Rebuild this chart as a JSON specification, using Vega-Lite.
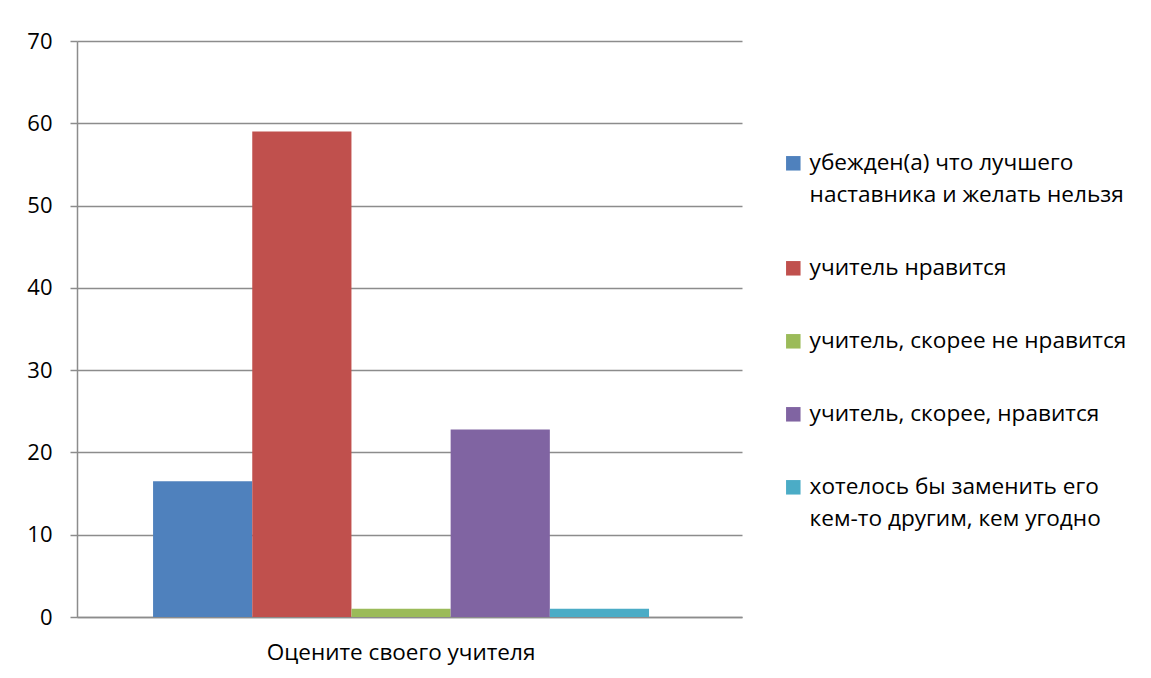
{
  "$schema": "https://vega.github.io/schema/vega-lite/v6.json",
  "width": 665,
  "height": 576,
  "autosize": {"type": "none"},
  "padding": {"left": 77, "top": 41, "right": 409, "bottom": 61},
  "background": "white",
  "config": {
    "view": {"stroke": null},
    "font": "Open Sans",
    "style": {"guide-label": {"lineHeight": 32}}
  },
  "data": {
    "values": [
      {"question": "Оцените своего учителя", "answer": "убежден(а) что лучшего наставника и желать нельзя", "value": 16.5},
      {"question": "Оцените своего учителя", "answer": "учитель нравится", "value": 59},
      {"question": "Оцените своего учителя", "answer": "учитель, скорее не нравится", "value": 1},
      {"question": "Оцените своего учителя", "answer": "учитель, скорее, нравится", "value": 22.8},
      {"question": "Оцените своего учителя", "answer": "хотелось бы заменить его кем-то другим, кем угодно", "value": 1}
    ]
  },
  "mark": {"type": "bar"},
  "encoding": {
    "x": {
      "field": "question",
      "type": "nominal",
      "title": null,
      "scale": {"paddingInner": 0, "paddingOuter": 0.1704, "align": 0.45},
      "axis": {
        "labelAngle": 0,
        "labelFontSize": 22.5,
        "labelColor": "#000000",
        "labelPadding": 24,
        "labelLimit": 0,
        "ticks": false,
        "domainColor": "#8c8c8c",
        "domainWidth": 1.5
      }
    },
    "xOffset": {
      "field": "answer",
      "type": "nominal",
      "sort": [
        "убежден(а) что лучшего наставника и желать нельзя",
        "учитель нравится",
        "учитель, скорее не нравится",
        "учитель, скорее, нравится",
        "хотелось бы заменить его кем-то другим, кем угодно"
      ],
      "scale": {"paddingInner": 0, "paddingOuter": 0}
    },
    "y": {
      "field": "value",
      "type": "quantitative",
      "title": null,
      "scale": {"domain": [0, 70], "nice": false},
      "axis": {
        "values": [0, 10, 20, 30, 40, 50, 60, 70],
        "labelFontSize": 22,
        "labelColor": "#000000",
        "labelPadding": 18,
        "tickSize": 7,
        "tickColor": "#8c8c8c",
        "tickWidth": 1.5,
        "domainColor": "#8c8c8c",
        "domainWidth": 1.5,
        "gridColor": "#8c8c8c",
        "gridWidth": 1.5,
        "grid": true
      }
    },
    "color": {
      "field": "answer",
      "type": "nominal",
      "scale": {
        "domain": [
          "убежден(а) что лучшего наставника и желать нельзя",
          "учитель нравится",
          "учитель, скорее не нравится",
          "учитель, скорее, нравится",
          "хотелось бы заменить его кем-то другим, кем угодно"
        ],
        "range": ["#4F81BD", "#C0504D", "#9BBB59", "#8064A2", "#4BACC6"]
      },
      "legend": {
        "title": null,
        "orient": "none",
        "legendX": 705,
        "legendY": 111,
        "symbolType": "square",
        "symbolSize": 210,
        "symbolStrokeWidth": 0,
        "labelFontSize": 22.6,
        "labelColor": "#000000",
        "labelLimit": 0,
        "labelOffset": 5,
        "rowPadding": 50,
        "labelExpr": "datum.label == 'убежден(а) что лучшего наставника и желать нельзя' ? ['убежден(а) что лучшего', 'наставника и желать нельзя'] : datum.label == 'хотелось бы заменить его кем-то другим, кем угодно' ? ['хотелось бы заменить его', 'кем-то другим, кем угодно'] : datum.label"
      }
    }
  }
}
